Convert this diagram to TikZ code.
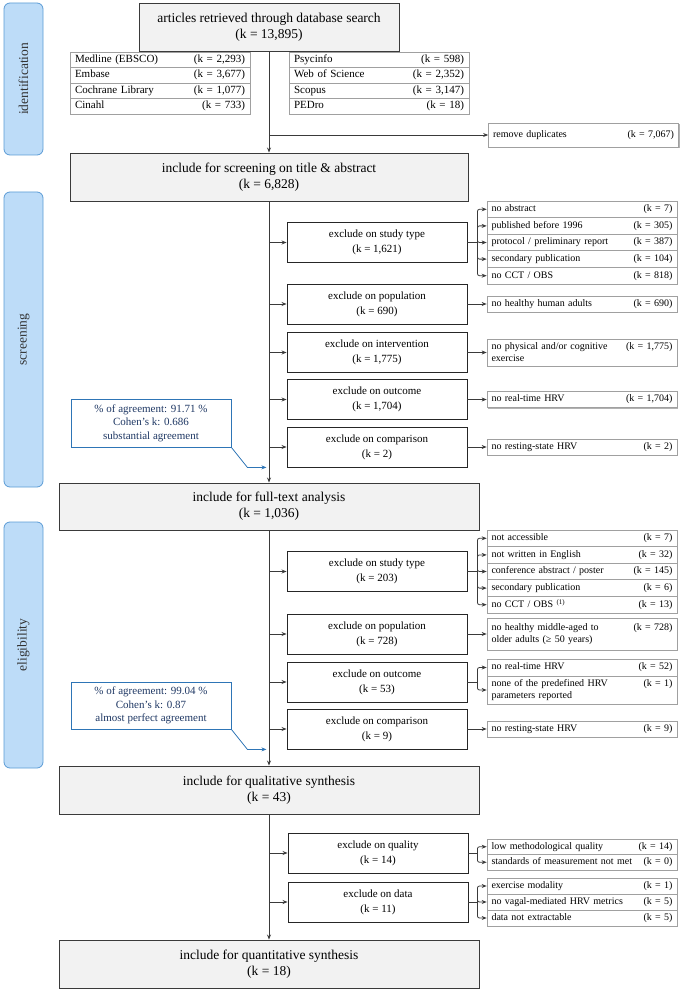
\documentclass[tikz,border=0pt]{standalone}
\usepackage{fontspec}
\setmainfont{Liberation Serif}
\usetikzlibrary{arrows.meta,shadows,calc}
\definecolor{barfill}{HTML}{BDDCF8}
\definecolor{barline}{HTML}{5B9BD5}
\definecolor{mainfill}{HTML}{F2F2F2}
\definecolor{lineclr}{HTML}{3A3A3A}
\definecolor{subline}{HTML}{A0A0A0}
\definecolor{agline}{HTML}{2E75B6}
\definecolor{agtext}{HTML}{1F3864}
\tikzset{
  phase/.style={draw=barline, fill=barfill, rounded corners=6pt, line width=0.8pt, rotate=90, minimum height=39pt, inner sep=0pt, font=\fontsize{13.5}{16}\selectfont, text=black!80},
  mainbox/.style={draw=lineclr, fill=mainfill, line width=0.9pt, align=center, inner sep=0pt, font=\fontsize{13.5}{16}\selectfont, drop shadow={shadow xshift=1pt, shadow yshift=-1pt, fill=black!40, opacity=1}},
  exbox/.style={draw=black!85, fill=white, line width=0.9pt, minimum width=180pt, minimum height=40pt, align=center, inner sep=0pt, font=\fontsize{11}{15}\selectfont},
  subbox/.style={draw=subline, fill=white, line width=0.7pt, minimum width=190pt, text width=181pt, align=left, inner xsep=4.5pt, inner ysep=0pt, font=\fontsize{10}{12}\selectfont, drop shadow={shadow xshift=1pt, shadow yshift=-1pt, fill=black!30, opacity=1}},
  dbbox/.style={draw=subline, fill=white, line width=0.7pt, minimum width=180pt, text width=170pt, minimum height=15.5pt, align=left, inner xsep=5pt, inner ysep=0pt, font=\fontsize{11}{13}\selectfont, drop shadow={shadow xshift=1pt, shadow yshift=-1pt, fill=black!30, opacity=1}},
  agbox/.style={draw=agline, fill=white, line width=0.8pt, minimum width=160pt, align=center, inner sep=0pt, text=agtext, font=\fontsize{11}{13.5}\selectfont},
  flow/.style={draw=lineclr, line width=0.8pt},
  arr/.style={flow, -{Stealth[length=5pt,width=4pt]}},
  agarr/.style={draw=agline, line width=0.8pt, -{Stealth[length=5pt,width=4pt]}},
  brk/.style={arr, rounded corners=2pt},
}
\begin{document}
\begin{tikzpicture}[x=1pt,y=-1pt]
\useasboundingbox (0,0) rectangle (682,992);
% phase bars
\node[phase, minimum width=152pt] (idph) at (23.5,79) {identification};
\node[phase, minimum width=295pt] (scph) at (23.5,339.5) {screening};
\node[phase, minimum width=246pt] (elph) at (23.5,645) {eligibility};

% identification
\node[mainbox, minimum width=260pt, minimum height=48pt] (top) at (269,27) {articles retrieved through database search\\(k = 13,895)};
\node[dbbox] (d1) at (160,59.75) {Medline (EBSCO)\hfill(k = 2,293)};
\node[dbbox] (d2) at (160,75.25) {Embase\hfill(k = 3,677)};
\node[dbbox] (d3) at (160,90.75) {Cochrane Library\hfill(k = 1,077)};
\node[dbbox] (d4) at (160,106.25) {Cinahl\hfill(k = 733)};
\node[dbbox] (d5) at (379,59.75) {Psycinfo\hfill(k = 598)};
\node[dbbox] (d6) at (379,75.25) {Web of Science\hfill(k = 2,352)};
\node[dbbox] (d7) at (379,90.75) {Scopus\hfill(k = 3,147)};
\node[dbbox] (d8) at (379,106.25) {PEDro\hfill(k = 18)};
\node[subbox, minimum height=24pt] (dup) at (583.5,135) {remove duplicates\hfill(k = 7,067)};

% screening
\node[mainbox, minimum width=398pt, minimum height=48pt] (scr) at (269,177) {include for screening on title \& abstract\\(k = 6,828)};
\node[exbox] (e1) at (377,242.5) {exclude on study type\\(k = 1,621)};
\node[exbox] (e2) at (377,304) {exclude on population\\(k = 690)};
\node[exbox] (e3) at (377,352.5) {exclude on intervention\\(k = 1,775)};
\node[exbox] (e4) at (377,399.5) {exclude on outcome\\(k = 1,704)};
\node[exbox] (e5) at (377,447) {exclude on comparison\\(k = 2)};
\node[subbox, minimum height=16.6pt] (s11) at (582,209.3) {no abstract\hfill(k = 7)};
\node[subbox, minimum height=16.6pt] (s12) at (582,225.9) {published before 1996\hfill(k = 305)};
\node[subbox, minimum height=16.6pt] (s13) at (582,242.5) {protocol / preliminary report\hfill(k = 387)};
\node[subbox, minimum height=16.6pt] (s14) at (582,259.1) {secondary publication\hfill(k = 104)};
\node[subbox, minimum height=16.6pt] (s15) at (582,275.7) {no CCT / OBS\hfill(k = 818)};
\node[subbox, minimum height=16pt] (s2) at (582,304) {no healthy human adults\hfill(k = 690)};
\node[subbox, minimum height=27pt] (s3) at (582,352.5) {no physical and/or cognitive\hfill(k = 1,775)\\exercise};
\node[subbox, minimum height=16pt] (s4) at (582,399.5) {no real-time HRV\hfill(k = 1,704)};
\node[subbox, minimum height=16pt] (s5) at (582,447) {no resting-state HRV\hfill(k = 2)};
\node[agbox, minimum height=48pt] (ag1) at (151,423) {\% of agreement: 91.71 \%\\Cohen’s k: 0.686\\substantial agreement};

% eligibility
\node[mainbox, minimum width=420pt, minimum height=47pt] (ft) at (269,506.5) {include for full-text analysis\\(k = 1,036)};
\node[exbox] (f1) at (377,571.5) {exclude on study type\\(k = 203)};
\node[exbox] (f2) at (377,634) {exclude on population\\(k = 728)};
\node[exbox] (f3) at (377,682) {exclude on outcome\\(k = 53)};
\node[exbox] (f4) at (377,729) {exclude on comparison\\(k = 9)};
\node[subbox, minimum height=16.6pt] (t11) at (582,538.3) {not accessible\hfill(k = 7)};
\node[subbox, minimum height=16.6pt] (t12) at (582,554.9) {not written in English\hfill(k = 32)};
\node[subbox, minimum height=16.6pt] (t13) at (582,571.5) {conference abstract / poster\hfill(k = 145)};
\node[subbox, minimum height=16.6pt] (t14) at (582,588.1) {secondary publication\hfill(k = 6)};
\node[subbox, minimum height=16.6pt] (t15) at (582,604.7) {no CCT / OBS \textsuperscript{(1)}\hfill(k = 13)};
\node[subbox, minimum height=32pt] (t2) at (582,634) {no healthy middle-aged to\hfill(k = 728)\\older adults (≥ 50 years)};
\node[subbox, minimum height=17pt] (t31) at (582,667.5) {no real-time HRV\hfill(k = 52)};
\node[subbox, minimum height=28pt] (t32) at (582,690) {none of the predefined HRV\hfill(k = 1)\\parameters reported};
\node[subbox, minimum height=16pt] (t4) at (582,729) {no resting-state HRV\hfill(k = 9)};
\node[agbox, minimum height=47pt] (ag2) at (151,705.5) {\% of agreement: 99.04 \%\\Cohen’s k: 0.87\\almost perfect agreement};

% synthesis
\node[mainbox, minimum width=420pt, minimum height=48pt] (ql) at (269,790) {include for qualitative synthesis\\(k = 43)};
\node[exbox] (g1) at (378,853) {exclude on quality\\(k = 14)};
\node[exbox] (g2) at (378,902) {exclude on data\\(k = 11)};
\node[subbox, minimum height=15.5pt] (q11) at (582,846.75) {low methodological quality\hfill(k = 14)};
\node[subbox, minimum height=15.5pt] (q12) at (582,862.25) {standards of measurement not met\hfill(k = 0)};
\node[subbox, minimum height=16pt] (q21) at (582,886) {exercise modality\hfill(k = 1)};
\node[subbox, minimum height=16pt] (q22) at (582,902) {no vagal-mediated HRV metrics\hfill(k = 5)};
\node[subbox, minimum height=16pt] (q23) at (582,918) {data not extractable\hfill(k = 5)};
\node[mainbox, minimum width=420pt, minimum height=48pt] (qn) at (269,964) {include for quantitative synthesis\\(k = 18)};

% main flow
\draw[arr] (top.south) -- (scr.north);
\draw[arr] (top.south |- dup.west) -- (dup.west);
\draw[arr] (scr.south) -- (ft.north);
\draw[arr] (ft.south) -- (ql.north);
\draw[arr] (ql.south) -- (qn.north);
\foreach \n in {e1,e2,e3,e4,e5} \draw[arr] (scr.south |- \n.west) -- (\n.west);
\foreach \n in {f1,f2,f3,f4} \draw[arr] (ft.south |- \n.west) -- (\n.west);
\foreach \n in {g1,g2} \draw[arr] (ql.south |- \n.west) -- (\n.west);

% single sub arrows
\draw[arr] (e2.east) -- (s2.west);
\draw[arr] (e3.east) -- (s3.west);
\draw[arr] (e4.east) -- (s4.west);
\draw[arr] (e5.east) -- (s5.west);
\draw[arr] (f2.east) -- (f2.east -| t2.west);
\draw[arr] (f4.east) -- (t4.west);

% brackets
\coordinate (b1) at ($(e1.east)+(10,0)$);
\draw[flow] (e1.east) -- (b1);
\foreach \s in {s11,s12,s13,s14,s15} \draw[brk] (b1) |- (\s.west);
\coordinate (b2) at ($(f1.east)+(10,0)$);
\draw[flow] (f1.east) -- (b2);
\foreach \s in {t11,t12,t13,t14,t15} \draw[brk] (b2) |- (\s.west);
\coordinate (b3) at ($(f3.east)+(10,0)$);
\draw[flow] (f3.east) -- (b3);
\foreach \s in {t31,t32} \draw[brk] (b3) |- (\s.west);
\coordinate (b4) at ($(g1.east)+(9,0)$);
\draw[flow] (g1.east) -- (b4);
\foreach \s in {q11,q12} \draw[brk] (b4) |- (\s.west);
\coordinate (b5) at ($(g2.east)+(9,0)$);
\draw[flow] (g2.east) -- (b5);
\foreach \s in {q21,q22,q23} \draw[brk] (b5) |- (\s.west);

% agreement arrows
\draw[agarr] (ag1.south east) -- ++(16,20) -- ++(19,0);
\draw[agarr] (ag2.south east) -- ++(16,20) -- ++(19,0);
\end{tikzpicture}
\end{document}
